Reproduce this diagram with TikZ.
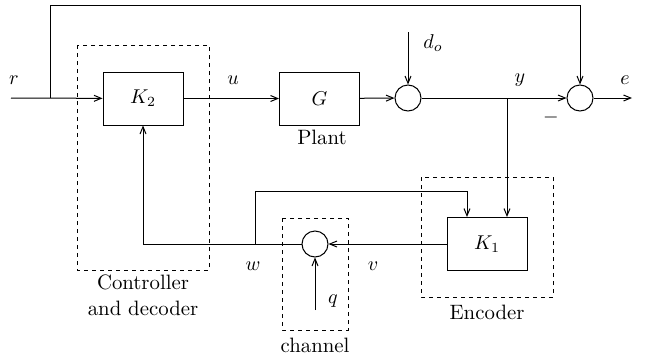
\documentclass[tikz,border=0pt]{standalone}
\usetikzlibrary{arrows.meta}
\begin{document}
\begin{tikzpicture}[x=0.5pt,y=-0.5pt,
  every node/.style={font=\fontsize{10.4}{13}\selectfont, inner sep=0pt},
  blk/.style={draw, line width=0.5pt, minimum width=40pt, minimum height=26.5pt},
  sumc/.style={draw, circle, line width=0.5pt, minimum size=13pt},
  ln/.style={line width=0.5pt},
  arr/.style={line width=0.5pt, -{Straight Barb[length=3.6pt,width=3pt]}},
  dbox/.style={line width=0.5pt, dash pattern=on 2pt off 2pt}]
\useasboundingbox (0,0) rectangle (648,354);
% blocks
\node[blk] (K2) at (143,98.5) {$K_2$};
\node[blk] (G) at (319.5,98.5) {$G$};
\node[sumc] (S1) at (408,98) {};
\node[sumc] (S2) at (580,98) {};
\node[blk] (K1) at (487,244) {$K_1$};
\node[sumc] (C) at (315,244) {};
% dashed groups
\draw[dbox] (77,45) rectangle (209,270);
\draw[dbox] (421,177) rectangle (553,297);
\draw[dbox] (282,218) rectangle (348,330);
% coordinates
\coordinate (rin) at (11,98);
\coordinate (rb) at (50,98);
\coordinate (rt) at (50,5);
\coordinate (din) at (408,32);
\coordinate (eout) at (632,98);
\coordinate (yb) at (507,98);
\coordinate (qin) at (315,310);
\coordinate (wb) at (255,244);
\coordinate (wt) at (255,191);
% connectors
\draw[arr] (rin) -- (K2);
\draw[arr] (rb) -- (rt) -| (S2);
\draw[arr] (K2) -- (G);
\draw[arr] (G) -- (S1);
\draw[arr] (din) -- (S1);
\draw[arr] (S1) -- (S2);
\draw[arr] (S2) -- (eout);
\draw[arr] (yb) -- (yb |- K1.north);
\draw[arr] (K1) -- (C);
\draw[arr] (C) -| (K2);
\draw[arr] (qin) -- (C);
\draw[arr] (wb) -- (wt) -| ([xshift=-10pt]K1.north);
% labels
\node (lr) at (14,80) {$r$};
\node (lu) at (233,80) {$u$};
\node (ld) at (433,43) {$d_o$};
\node (ly) at (520,80) {$y$};
\node (le) at (625,80) {$e$};
\node (lm) at (551,117) {$-$};
\node (lw) at (253,266) {$w$};
\node (lv) at (373,266) {$v$};
\node (lq) at (333,301) {$q$};
\node (lplant) at (322,137) {Plant};
\node[align=center] (lctrl) at (143,295) {Controller\\and decoder};
\node (lenc) at (487,312) {Encoder};
\node (lch) at (315,345) {channel};
\end{tikzpicture}
\end{document}
